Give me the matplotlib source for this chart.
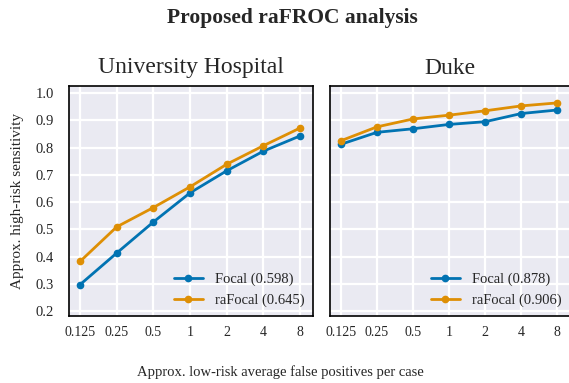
import numpy as np
import matplotlib.pyplot as plt
import seaborn as sns

sns.set_style("darkgrid")
plt.rcParams['font.family'] = ['Liberation Serif', 'DejaVu Serif']

fps = [0.125, 0.25, 0.5, 1, 2, 4, 8]
fp_labels = ['0.125', '0.25', '0.5', '1', '2', '4', '8']

uh_focal = [0.297, 0.413, 0.527, 0.634, 0.715, 0.787, 0.843]
uh_rafocal = [0.382, 0.509, 0.580, 0.656, 0.739, 0.807, 0.872]
duke_focal = [0.812, 0.856, 0.869, 0.885, 0.895, 0.925, 0.938]
duke_rafocal = [0.825, 0.876, 0.905, 0.919, 0.935, 0.953, 0.964]

panels = [
    ("University Hospital", uh_focal, uh_rafocal, 0.598, 0.645),
    ("Duke", duke_focal, duke_rafocal, 0.878, 0.906),
]

blue = '#0173b2'
orange = '#de8f05'

fig = plt.figure(figsize=(5.69, 3.83), dpi=100)
W, H = 569, 383
boxes = [(69, 86, 313, 316), (330, 86, 570, 316)]

for i, ((name, foc, rafoc, s1, s2), (x0, y0, x1, y1)) in enumerate(zip(panels, boxes)):
    ax = fig.add_axes([x0 / W, 1 - y1 / H, (x1 - x0) / W, (y1 - y0) / H])
    ax.set_facecolor('#eaeaf2')
    ax.plot(fps, foc, '-o', color=blue, lw=2, ms=4.5, label=f'Focal ({s1:.3f})')
    ax.plot(fps, rafoc, '-o', color=orange, lw=2, ms=4.5, label=f'raFocal ({s2:.3f})')
    ax.set_xscale('log', base=2)
    ax.set_xlim(0.125 * 2 ** -0.3, 8 * 2 ** 0.35)
    ax.set_ylim(0.182, 1.026)
    ax.set_xticks(fps)
    ax.set_xticklabels(fp_labels)
    ax.minorticks_off()
    ax.set_yticks(np.arange(0.2, 1.01, 0.1))
    ax.grid(True, color='white', lw=1.6)
    ax.tick_params(axis='x', labelsize=10, length=0, pad=7)
    ax.tick_params(axis='y', labelsize=10.5, length=0, pad=11)
    if i == 0:
        ax.set_yticklabels([f'{v:.1f}' for v in np.arange(0.2, 1.01, 0.1)])
        ax.set_ylabel('Approx. high-risk sensitivity', fontsize=11, labelpad=8)
    else:
        ax.set_yticklabels([])
    for sp in ax.spines.values():
        sp.set_visible(True)
        sp.set_color('black')
        sp.set_linewidth(1.2)
    ax.set_title(name, fontsize=17, pad=9)
    ax.legend(loc='lower right', frameon=False, fontsize=10.5, handlelength=2,
              borderaxespad=0.2)

fig.text(0.513, 1 - 18 / H, 'Proposed raFROC analysis', ha='center', va='center',
         fontsize=15.5, fontweight='bold')
fig.text(0.493, 1 - 372 / H, 'Approx. low-risk average false positives per case',
         ha='center', va='center', fontsize=10.5)

fig.savefig('out.png', dpi=100)
